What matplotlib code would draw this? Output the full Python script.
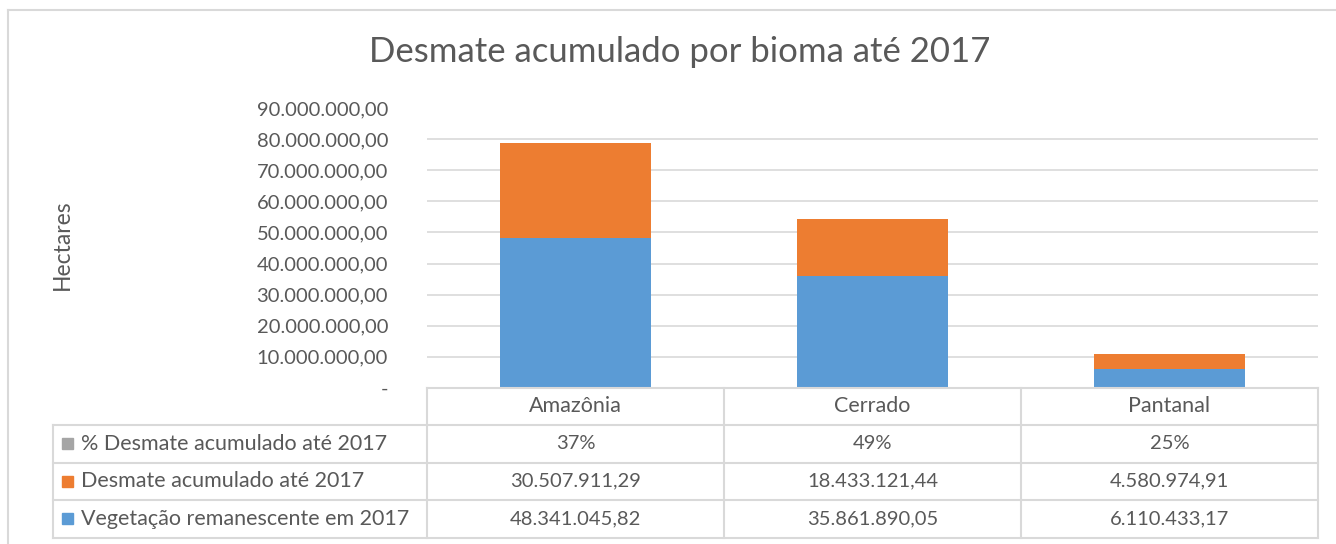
import matplotlib.pyplot as plt
from matplotlib.transforms import blended_transform_factory

plt.rcParams['font.family'] = ['Lato', 'DejaVu Sans']

biomas = ['Amazônia', 'Cerrado', 'Pantanal']
vegetacao = [48341045.82, 35861890.05, 6110433.17]
desmate = [30507911.29, 18433121.44, 4580974.91]
pct_desmate = [0.37, 0.49, 0.25]
serie_nomes = ['% Desmate acumulado até 2017', 'Desmate acumulado até 2017',
               'Vegetação remanescente em 2017']
yticks = [0, 10e6, 20e6, 30e6, 40e6, 50e6, 60e6, 70e6, 80e6, 90e6]

BLUE = '#5B9BD5'
ORANGE = '#ED7D31'
GRAY = '#A5A5A5'
TXT = '#595959'
LINE = '#D9D9D9'


def br(v, dec=2):
    s = f'{v:,.{dec}f}'
    return s.replace(',', 'X').replace('.', ',').replace('X', '.')


W, H = 1336, 544
fig = plt.figure(figsize=(W / 100, H / 100), dpi=100)

# borda externa do gráfico (cortada à direita e embaixo)
fig.add_artist(plt.Line2D([8 / W, 8 / W], [0, 1 - 10 / H], color=LINE, lw=1.5))
fig.add_artist(plt.Line2D([8 / W, 1], [1 - 10 / H, 1 - 10 / H], color=LINE, lw=1.5))

x0, x1, ytop, ybot = 427, 1318, 108.5, 387.5
ax = fig.add_axes([x0 / W, 1 - ybot / H, (x1 - x0) / W, (ybot - ytop) / H])

xs = range(len(biomas))
ax.bar(xs, vegetacao, width=0.51, color=BLUE, zorder=3)
ax.bar(xs, desmate, width=0.51, bottom=vegetacao, color=ORANGE, zorder=3)

ax.set_xlim(-0.5, len(biomas) - 0.5)
ax.set_ylim(0, 90e6)
ax.set_yticks(yticks)
ax.set_yticklabels(['-' if t == 0 else br(t) for t in yticks], color=TXT, fontsize=14.5)
ax.tick_params(axis='y', length=0, pad=28)
ax.set_xticks([])
ax.grid(axis='y', color=LINE, lw=1.2, zorder=0)
for s in ax.spines.values():
    s.set_visible(False)

fig.text(62 / W, 1 - 245 / H, 'Hectares', rotation=90, ha='center', va='center',
         color=TXT, fontsize=16.5)
fig.text(680 / W, 1 - 52 / H, 'Desmate acumulado por bioma até 2017', ha='center',
         va='center', color=TXT, fontsize=25)

# tabela de dados
row_edges = [387.5, 425, 462.5, 500, 537.5]
left_col = 53
trans_x = blended_transform_factory(ax.transData, fig.transFigure)


def fy(p):
    return 1 - p / H


def hline(xa, xb, yp):
    fig.add_artist(plt.Line2D([xa / W, xb / W], [fy(yp), fy(yp)], color=LINE, lw=1.5))


def vline(xp, ya, yb):
    fig.add_artist(plt.Line2D([xp / W, xp / W], [fy(ya), fy(yb)], color=LINE, lw=1.5))


hline(x0, x1, row_edges[0])
for yp in row_edges[1:]:
    hline(left_col, x1, yp)
vline(left_col, row_edges[1], row_edges[-1])
for k in range(len(biomas) + 1):
    xp = x0 + k * (x1 - x0) / len(biomas)
    vline(xp, row_edges[0], row_edges[-1])

rows = [[f'{p:.0%}' for p in pct_desmate],
        [br(v) for v in desmate],
        [br(v) for v in vegetacao]]
cores = [GRAY, ORANGE, BLUE]


def mid(i):
    return fy((row_edges[i] + row_edges[i + 1]) / 2)


for j, b in enumerate(biomas):
    fig.text(j, mid(0), b, transform=trans_x, ha='center', va='center',
             color=TXT, fontsize=15.5)
for i, (nome, cor, vals) in enumerate(zip(serie_nomes, cores, rows)):
    ym = mid(i + 1)
    fig.add_artist(plt.Rectangle((62 / W, ym - 5.5 / H), 11 / W, 11 / H,
                                 color=cor, transform=fig.transFigure))
    fig.text(81 / W, ym, nome, ha='left', va='center', color=TXT, fontsize=15.5)
    for j, v in enumerate(vals):
        fig.text(j, ym, v, transform=trans_x, ha='center', va='center',
                 color=TXT, fontsize=14.5)

fig.savefig('out.png', dpi=100, facecolor='white')
